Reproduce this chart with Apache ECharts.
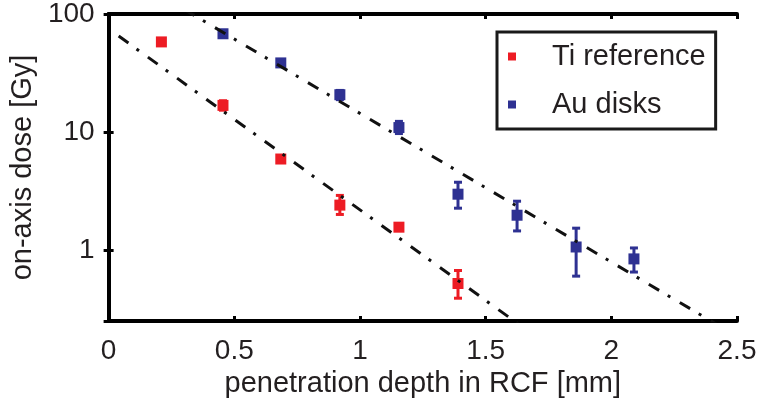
<!DOCTYPE html>
<html>
<head>
<meta charset="utf-8">
<script src="https://cdn.jsdelivr.net/npm/echarts@6/dist/echarts.min.js"></script>
<style>
  html, body { margin: 0; padding: 0; background: #fff; }
  #chart { width: 760px; height: 408px; }
</style>
</head>
<body>
<div id="chart"></div>
<script>
// Ti reference measurements: depth [mm], dose [Gy] and error-bar limits
const tiDepth = [0.21, 0.455, 0.685, 0.92, 1.155, 1.39];
const tiDose  = [58, 16.8, 5.9, 2.4, 1.56, 0.52];
const tiLow   = [55, 15.3, 5.6, 2.0, 1.48, 0.39];
const tiHigh  = [61, 18.4, 6.2, 2.9, 1.64, 0.67];

// Au disks measurements
const auDepth = [0.455, 0.685, 0.92, 1.155, 1.39, 1.625, 1.86, 2.09];
const auDose  = [68, 38.5, 20.7, 10.9, 2.97, 1.97, 1.06, 0.84];
const auLow   = [64, 36.5, 18.8, 9.7, 2.26, 1.45, 0.60, 0.65];
const auHigh  = [71, 40.5, 22.5, 12.3, 3.75, 2.59, 1.53, 1.04];

// exponential fits (straight on the log axis), given by their end points
const tiFitX = [0.04, 1.65];
const tiFitY = [65, 0.22];
const auFitX = [0.30, 2.45];
const auFitY = [109.6, 0.214];

// axis ticks
const xTicks = [0, 0.5, 1, 1.5, 2, 2.5];
const yTicks = [1, 10, 100];

const RED = '#ED1C24';
const BLUE = '#2E3192';
const INK = '#231F20';
const FONT = 'Liberation Sans, Arial, sans-serif';

const chart = echarts.init(document.getElementById('chart'), null, { renderer: 'canvas' });

function zip(a, b) { return a.map((v, i) => [v, b[i]]); }
function errData(x, lo, hi) { return x.map((v, i) => [v, lo[i], hi[i]]); }

function errorBar(color) {
  return function (params, api) {
    const x = api.value(0);
    const lo = api.coord([x, api.value(1)]);
    const hi = api.coord([x, api.value(2)]);
    const cap = 4;
    const style = { stroke: color, lineWidth: 3 };
    return {
      type: 'group',
      children: [
        { type: 'line', shape: { x1: lo[0], y1: lo[1], x2: hi[0], y2: hi[1] }, style },
        { type: 'line', shape: { x1: lo[0] - cap, y1: lo[1], x2: lo[0] + cap, y2: lo[1] }, style },
        { type: 'line', shape: { x1: hi[0] - cap, y1: hi[1], x2: hi[0] + cap, y2: hi[1] }, style }
      ]
    };
  };
}

const axisLineStyle = { color: '#000', width: 4 };
const tickStyle = { show: true, inside: true, length: 5, lineStyle: { color: '#000', width: 3 } };
const fitStyle = { color: '#111', width: 3, type: [12, 10, 3, 11] };

const option = {
  animation: false,
  backgroundColor: '#fff',
  grid: { left: 102, right: 23, top: 14, bottom: 87, containLabel: false },
  legend: {
    left: 497, top: 32,
    orient: 'vertical',
    data: ['Ti reference', 'Au disks'],
    icon: 'rect',
    itemWidth: 8, itemHeight: 8,
    itemGap: 19,
    padding: [10, 10, 10, 11],
    borderColor: '#1a1a1a', borderWidth: 3,
    backgroundColor: '#fff',
    itemStyle: { opacity: 1 },
    textStyle: { fontFamily: FONT, fontSize: 29, color: INK, padding: [0, 0, 0, 31] }
  },
  xAxis: [
    {
      type: 'value', min: 0, max: 2.5, interval: 0.5,
      position: 'bottom',
      name: 'penetration depth in RCF [mm]',
      nameLocation: 'middle', nameGap: 46,
      nameTextStyle: { fontFamily: FONT, fontSize: 29, color: INK },
      axisLine: { show: true, lineStyle: axisLineStyle },
      axisTick: tickStyle,
      splitLine: { show: false },
      axisLabel: {
        fontFamily: FONT, fontSize: 28, color: INK, margin: 16,
        formatter: v => xTicks.includes(v) ? String(v) : ''
      }
    },
    {
      type: 'value', min: 0, max: 2.5, interval: 0.5,
      position: 'top',
      axisLine: { show: true, lineStyle: axisLineStyle },
      axisTick: tickStyle,
      axisLabel: { show: false },
      splitLine: { show: false }
    }
  ],
  yAxis: [
    {
      type: 'log', logBase: 10, min: 0.25, max: 100,
      position: 'left',
      name: 'on-axis dose [Gy]',
      nameLocation: 'middle', nameGap: 56, nameRotate: 90,
      nameTextStyle: { fontFamily: FONT, fontSize: 29, color: INK },
      axisLine: { show: true, lineStyle: axisLineStyle },
      axisTick: tickStyle,
      minorTick: { show: false },
      splitLine: { show: false },
      axisLabel: {
        fontFamily: FONT, fontSize: 28, color: INK, margin: 14,
        showMinLabel: false,
        formatter: v => yTicks.some(t => Math.abs(t - v) / t < 1e-6) ? String(Math.round(v)) : ''
      }
    },
    {
      type: 'log', logBase: 10, min: 0.25, max: 100,
      position: 'right',
      axisLine: { show: true, lineStyle: axisLineStyle },
      axisTick: tickStyle,
      axisLabel: { show: false },
      splitLine: { show: false }
    }
  ],
  series: [
    {
      name: 'Ti fit', type: 'line', data: zip(tiFitX, tiFitY),
      showSymbol: false, symbol: 'none', clip: true, silent: true,
      lineStyle: fitStyle, z: 3
    },
    {
      name: 'Au fit', type: 'line', data: zip(auFitX, auFitY),
      showSymbol: false, symbol: 'none', clip: true, silent: true,
      lineStyle: fitStyle, z: 3
    },
    {
      name: 'Ti error', type: 'custom', renderItem: errorBar(RED),
      data: errData(tiDepth, tiLow, tiHigh), encode: { x: 0, y: [1, 2] }, z: 2
    },
    {
      name: 'Au error', type: 'custom', renderItem: errorBar(BLUE),
      data: errData(auDepth, auLow, auHigh), encode: { x: 0, y: [1, 2] }, z: 2
    },
    {
      name: 'Ti reference', type: 'scatter', data: zip(tiDepth, tiDose),
      symbol: 'rect', symbolSize: 11, itemStyle: { color: RED, opacity: 1 }, z: 2
    },
    {
      name: 'Au disks', type: 'scatter', data: zip(auDepth, auDose),
      symbol: 'rect', symbolSize: 11, itemStyle: { color: BLUE, opacity: 1 }, z: 2
    }
  ]
};

chart.setOption(option);
</script>
</body>
</html>
